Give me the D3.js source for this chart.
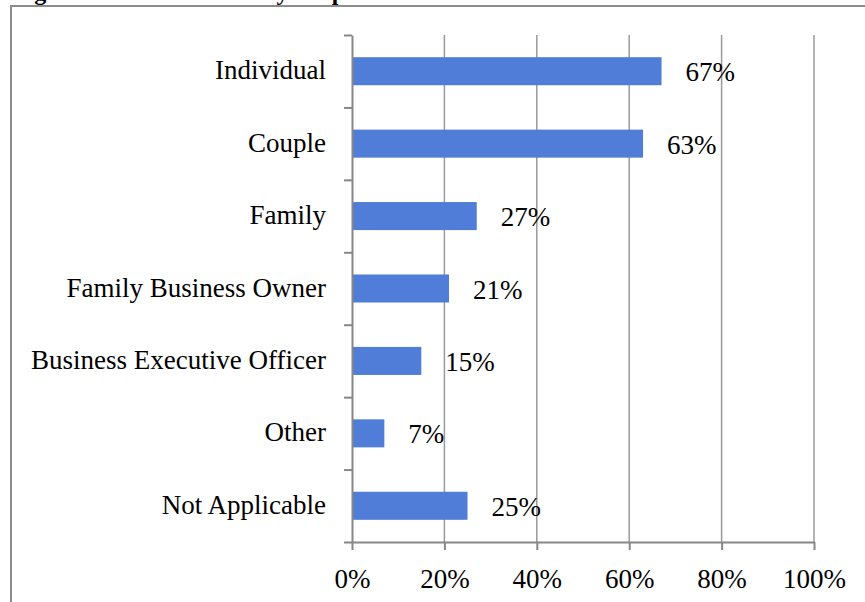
<!DOCTYPE html>
<html>
<head>
<meta charset="utf-8">
<script src="https://cdn.jsdelivr.net/npm/d3@7"></script>
<style>
  body { margin: 0; background: #fff; }
  svg { display: block; }
</style>
</head>
<body>
<div id="chart"></div>
<script>
// data
const categories = ["Individual", "Couple", "Family", "Family Business Owner",
                    "Business Executive Officer", "Other", "Not Applicable"];
const values = [0.67, 0.63, 0.27, 0.21, 0.15, 0.07, 0.25];
const xTicks = [0, 0.2, 0.4, 0.6, 0.8, 1];
const title = "Figure 4: Clients of Survey Respondents";

const width = 865, height = 602;
const margin = { top: 35, bottom: 60, left: 352, right: 51 };
const font = "'Liberation Serif', 'DejaVu Serif', serif";
const fontSize = 27;

const svg = d3.select("#chart")
  .append("svg")
  .attr("width", width)
  .attr("height", height);

// title (cut off at the top) and the frame
svg.append("text")
  .attr("x", 13)
  .attr("y", 0)
  .attr("font-family", font)
  .attr("font-weight", "bold")
  .attr("font-size", 24)
  .attr("fill", "#000")
  .text(title);

svg.append("path")
  .attr("d", `M11,${height + 5} V6 H${width + 5}`)
  .attr("fill", "none")
  .attr("stroke", "#8c8c8c")
  .attr("stroke-width", 2);

const yTop = margin.top, yBottom = height - margin.bottom;

// scales
const x = d3.scaleLinear()
  .domain([0, 1])
  .range([margin.left, width - margin.right]);

const y = d3.scaleBand()
  .domain(categories)
  .range([yTop, yBottom])
  .paddingInner(0.613)
  .paddingOuter(0.3065);

// gridlines
svg.append("g")
  .selectAll("line")
  .data(xTicks.filter(d => d > 0))
  .enter()
  .append("line")
  .attr("x1", d => x(d))
  .attr("x2", d => x(d))
  .attr("y1", yTop)
  .attr("y2", yBottom)
  .attr("stroke", "#9a9a9a")
  .attr("stroke-width", 1.5);

// bars
svg.append("g")
  .selectAll("rect")
  .data(values)
  .enter()
  .append("rect")
  .attr("x", x(0))
  .attr("y", (d, i) => y(categories[i]))
  .attr("width", d => x(d) - x(0))
  .attr("height", y.bandwidth())
  .attr("fill", "#4f7dd8");

// value labels
svg.append("g")
  .selectAll("text")
  .data(values)
  .enter()
  .append("text")
  .attr("x", d => x(d) + 24)
  .attr("y", (d, i) => y(categories[i]) + y.bandwidth() / 2 + 10)
  .attr("font-family", font)
  .attr("font-size", fontSize)
  .attr("fill", "#000")
  .text(d => d3.format(".0%")(d));

// x axis
const xAxis = svg.append("g")
  .attr("transform", `translate(0,${yBottom})`)
  .call(d3.axisBottom(x).tickValues(xTicks).tickFormat(d3.format(".0%")).tickSize(8).tickSizeOuter(0));
xAxis.select(".domain").attr("stroke", "#878787").attr("stroke-width", 2);
xAxis.selectAll(".tick line").attr("stroke", "#878787").attr("stroke-width", 2);
xAxis.selectAll(".tick text")
  .attr("font-family", font)
  .attr("font-size", fontSize)
  .attr("fill", "#000")
  .attr("dy", 0)
  .attr("y", 46);

// y axis: boundary ticks between categories
const yEdge = d3.scaleLinear().domain([0, categories.length]).range([yTop, yBottom]);
const yAxis = svg.append("g")
  .attr("transform", `translate(${x(0)},0)`)
  .call(d3.axisLeft(yEdge).ticks(categories.length).tickFormat("").tickSize(8).tickSizeOuter(0));
yAxis.select(".domain").attr("stroke", "#878787").attr("stroke-width", 2);
yAxis.selectAll(".tick line").attr("stroke", "#878787").attr("stroke-width", 2);

// category labels
svg.append("g")
  .selectAll("text")
  .data(categories)
  .enter()
  .append("text")
  .attr("x", x(0) - 26)
  .attr("y", d => y(d) + y.bandwidth() / 2 + 8)
  .attr("text-anchor", "end")
  .attr("font-family", font)
  .attr("font-size", fontSize)
  .attr("fill", "#000")
  .text(d => d);
</script>
</body>
</html>
